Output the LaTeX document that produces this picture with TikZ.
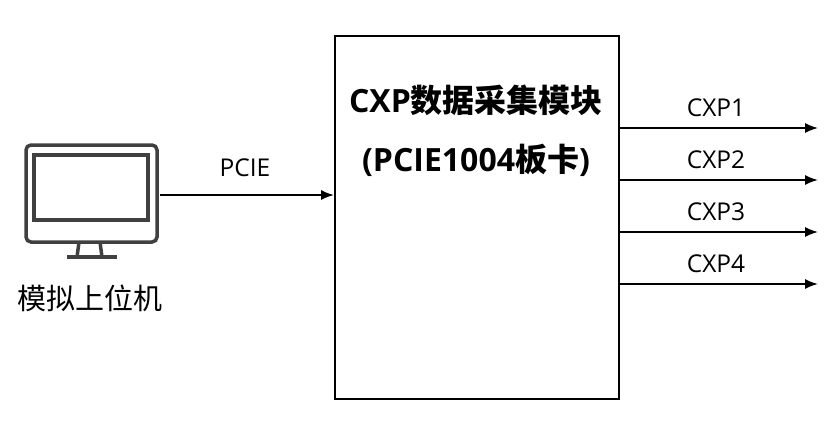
\documentclass[tikz,border=0pt]{standalone}
\usepackage{fontspec}
\setmainfont{Open Sans}
\newfontfamily\cjk{Noto Sans CJK SC}
\usetikzlibrary{arrows.meta}
\begin{document}
\begin{tikzpicture}[x=1pt,y=-1pt,
  conn/.style={line width=1.6pt,-{Latex[length=13pt,width=10pt]}},
  lbl/.style={font=\fontsize{24.5}{28}\selectfont},
  icon/.style={draw=black!75,line width=3.5pt}]
\useasboundingbox (0,0) rectangle (830,431);
\node[draw,line width=2pt,minimum width=284pt,minimum height=363pt,anchor=north west] (box) at (334,35) {};
\node[font=\fontsize{32}{36}\selectfont\bfseries] (t1) at (476,100) {CXP{\cjk\bfseries 数据采集模块}};
\node[font=\fontsize{32}{36}\selectfont\bfseries] (t2) at (476,160) {(PCIE1004{\cjk\bfseries 板卡})};
% monitor
\draw[icon,rounded corners=5pt] (26,145) rectangle (157,242);
\draw[icon] (34,155) rectangle (148,220);
\draw[icon] (79,242) -- (77,257) (100,242) -- (102,257);
\draw[icon] (67,257) -- (117,257);
\coordinate (pc) at (160,195);
\node[font=\fontsize{29}{32}\selectfont] (pclbl) at (90,298) {\cjk 模拟上位机};
\draw[conn] (pc) -- (box.west |- pc);
\node[lbl] at (245,168) {PCIE};
\foreach \i/\y in {1/128,2/180,3/232,4/284}{
  \coordinate (s\i) at (618,\y);
  \coordinate (e\i) at (818,\y);
  \draw[conn] (s\i) -- (e\i);
  \node[lbl] (c\i) at (716,\y-20) {CXP\i};
}
\end{tikzpicture}
\end{document}
